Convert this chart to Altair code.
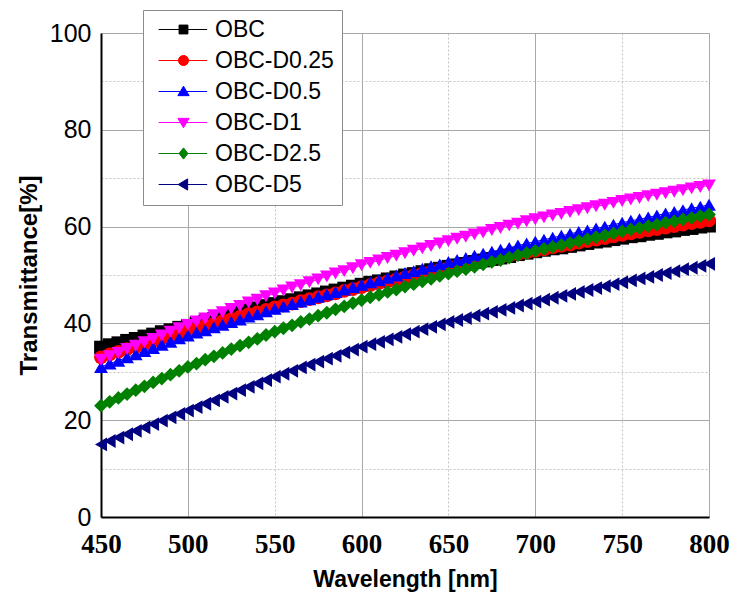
import altair as alt
import pandas as pd

wavelengths = list(range(450, 805, 5))

series_names = ["OBC", "OBC-D0.25", "OBC-D0.5", "OBC-D1", "OBC-D2.5", "OBC-D5"]
series_colors = ["#000000", "#ff0000", "#0000ff", "#ff00ff", "#008000", "#000080"]
series_shapes = ["square", "circle", "triangle-up", "triangle-down", "diamond", "triangle-left"]

# legend glyphs: short line segment through the marker
legend_line = "M-4.2,0H4.0"
legend_shapes = [
    legend_line + "M-0.75,-0.75H0.75V0.75H-0.75Z",
    legend_line + "M-0.85,0A0.85,0.85 0 1,0 0.85,0A0.85,0.85 0 1,0 -0.85,0Z",
    legend_line + "M0,-0.9L0.95,0.7L-0.95,0.7Z",
    legend_line + "M0,0.9L0.95,-0.7L-0.95,-0.7Z",
    legend_line + "M0,-0.95L0.75,0L0,0.95L-0.75,0Z",
    legend_line + "M-0.9,0L0.7,-0.95L0.7,0.95Z",
]

obc = [35.0, 35.5, 35.9, 36.4, 36.8, 37.3, 37.7, 38.2, 38.6, 39.1,
       39.5, 40.0, 40.4, 40.9, 41.3, 41.8, 42.2, 42.7, 43.1, 43.6,
       44.0, 44.4, 44.8, 45.2, 45.6, 46.0, 46.4, 46.8, 47.2, 47.6,
       48.0, 48.4, 48.7, 49.1, 49.5, 49.9, 50.2, 50.6, 51.0, 51.3,
       51.7, 52.0, 52.3, 52.7, 53.0, 53.3, 53.6, 53.9, 54.3, 54.6,
       54.9, 55.2, 55.5, 55.7, 56.0, 56.3, 56.6, 56.9, 57.1, 57.4,
       57.7, 58.0, 58.2, 58.5, 58.7, 59.0, 59.2, 59.5, 59.7, 60.0, 60.2]
obc_d025 = [33.0, 33.6, 34.1, 34.7, 35.2, 35.8, 36.3, 36.9, 37.4, 38.0,
            38.5, 39.0, 39.5, 39.9, 40.4, 40.9, 41.4, 41.9, 42.3, 42.8,
            43.3, 43.7, 44.1, 44.6, 45.0, 45.4, 45.8, 46.2, 46.7, 47.1,
            47.5, 47.9, 48.3, 48.7, 49.1, 49.5, 49.9, 50.3, 50.7, 51.1,
            51.5, 51.9, 52.2, 52.6, 52.9, 53.3, 53.6, 54.0, 54.3, 54.7,
            55.0, 55.3, 55.7, 56.0, 56.3, 56.7, 57.0, 57.3, 57.6, 58.0,
            58.3, 58.6, 58.9, 59.2, 59.5, 59.8, 60.1, 60.4, 60.7, 61.0, 61.3]
obc_d05 = [31.0, 31.7, 32.3, 33.0, 33.6, 34.3, 34.9, 35.6, 36.2, 36.9,
           37.5, 38.1, 38.6, 39.2, 39.7, 40.3, 40.8, 41.4, 41.9, 42.5,
           43.0, 43.5, 44.0, 44.5, 45.0, 45.5, 46.0, 46.5, 47.0, 47.5,
           48.0, 48.5, 48.9, 49.4, 49.9, 50.4, 50.8, 51.3, 51.8, 52.2,
           52.7, 53.1, 53.5, 54.0, 54.4, 54.8, 55.2, 55.6, 56.1, 56.5,
           56.9, 57.3, 57.7, 58.1, 58.5, 58.9, 59.2, 59.6, 60.0, 60.4,
           60.8, 61.2, 61.5, 61.9, 62.3, 62.7, 63.0, 63.4, 63.8, 64.1, 64.5]
obc_d1 = [32.5, 33.2, 33.9, 34.7, 35.4, 36.1, 36.8, 37.5, 38.3, 39.0,
          39.7, 40.4, 41.0, 41.7, 42.3, 43.0, 43.6, 44.3, 44.9, 45.6,
          46.2, 46.8, 47.4, 47.9, 48.5, 49.1, 49.7, 50.3, 50.8, 51.4,
          52.0, 52.5, 53.0, 53.5, 54.0, 54.5, 55.0, 55.5, 56.0, 56.5,
          57.0, 57.5, 57.9, 58.4, 58.8, 59.3, 59.7, 60.2, 60.6, 61.1,
          61.5, 61.9, 62.3, 62.6, 63.0, 63.4, 63.8, 64.2, 64.5, 64.9,
          65.3, 65.6, 65.9, 66.3, 66.6, 66.9, 67.2, 67.5, 67.9, 68.2, 68.5]
obc_d25 = [23.0, 23.8, 24.6, 25.4, 26.2, 27.0, 27.8, 28.6, 29.4, 30.2,
           31.0, 31.7, 32.5, 33.2, 33.9, 34.7, 35.4, 36.1, 36.8, 37.6,
           38.3, 39.0, 39.6, 40.3, 40.9, 41.6, 42.2, 42.9, 43.5, 44.2,
           44.8, 45.4, 45.9, 46.5, 47.0, 47.6, 48.1, 48.7, 49.2, 49.8,
           50.3, 50.8, 51.2, 51.7, 52.2, 52.7, 53.1, 53.6, 54.1, 54.5,
           55.0, 55.4, 55.8, 56.2, 56.6, 57.0, 57.4, 57.8, 58.2, 58.6,
           59.0, 59.4, 59.7, 60.1, 60.4, 60.8, 61.1, 61.5, 61.8, 62.2, 62.5]
obc_d5 = [15.0, 15.7, 16.4, 17.1, 17.8, 18.5, 19.2, 19.9, 20.6, 21.3,
          22.0, 22.7, 23.4, 24.1, 24.8, 25.5, 26.2, 26.9, 27.6, 28.3,
          29.0, 29.6, 30.2, 30.9, 31.5, 32.1, 32.7, 33.3, 34.0, 34.6,
          35.2, 35.7, 36.2, 36.7, 37.2, 37.8, 38.3, 38.8, 39.3, 39.8,
          40.3, 40.7, 41.1, 41.6, 42.0, 42.4, 42.8, 43.2, 43.7, 44.1,
          44.5, 44.9, 45.3, 45.7, 46.1, 46.5, 46.9, 47.3, 47.7, 48.1,
          48.5, 48.9, 49.3, 49.6, 50.0, 50.4, 50.8, 51.2, 51.5, 51.9, 52.3]

x_ticks = [450, 500, 550, 600, 650, 700, 750, 800]
y_ticks = [0, 10, 20, 30, 40, 50, 60, 70, 80, 90, 100]

all_series = [obc, obc_d025, obc_d05, obc_d1, obc_d25, obc_d5]
rows = []
for idx, (name, vals) in enumerate(zip(series_names, all_series)):
    for w, v in zip(wavelengths, vals):
        rows.append({"series": name, "order": idx, "wl": w, "T": v})
df = pd.DataFrame(rows)

color_scale = alt.Scale(domain=series_names, range=series_colors)
shape_scale = alt.Scale(domain=series_names, range=series_shapes)
legend_shape_scale = alt.Scale(domain=series_names, range=legend_shapes)

legend = alt.Legend(
    title=None,
    orient="none",
    legendX=42,
    legendY=-23,
    direction="vertical",
    fillColor="#ffffff",
    strokeColor="#8c8c8c",
    padding=8,
    symbolOffset=21,
    symbolSize=140,
    symbolStrokeWidth=1,
    labelOffset=20,
    labelFont="Liberation Sans",
    labelFontSize=23,
    labelColor="#000",
    rowPadding=7,
    labelLimit=300,
    symbolOpacity=1,
)

x_enc = alt.X(
    "wl:Q",
    scale=alt.Scale(domain=[450, 800], nice=False),
    axis=alt.Axis(
        values=x_ticks,
        title="Wavelength [nm]",
        labelFont="Liberation Serif",
        labelFontWeight="bold",
        labelFontSize=27,
        labelColor="#000",
        labelPadding=14,
        labelFlush=False,
        titleFont="Liberation Sans",
        titleFontWeight="bold",
        titleFontSize=23,
        titleColor="#000",
        titlePadding=11,
        ticks=False,
        domainColor="#000",
        domainWidth=2,
        gridColor={"condition": {"test": "datum.value % 100 == 0", "value": "#a8a8a8"}, "value": "#c4c4c4"},
        gridDash={"condition": {"test": "datum.value % 100 == 0", "value": []}, "value": [2, 2]},
        gridWidth=1,
    ),
)
y_enc = alt.Y(
    "T:Q",
    scale=alt.Scale(domain=[0, 100], nice=False),
    axis=alt.Axis(
        values=y_ticks,
        title="Transmittance[%]",
        labelExpr="datum.value % 20 == 0 ? datum.label : ''",
        labelFont="Liberation Sans",
        labelFontSize=25,
        labelColor="#000",
        labelPadding=10,
        labelFlush=False,
        titleFont="Liberation Sans",
        titleFontWeight="bold",
        titleFontSize=24,
        titleColor="#000",
        titlePadding=8,
        ticks=False,
        domainColor="#000",
        domainWidth=2,
        gridColor={"condition": {"test": "datum.value % 20 == 0", "value": "#a8a8a8"}, "value": "#c4c4c4"},
        gridDash={"condition": {"test": "datum.value % 20 == 0", "value": []}, "value": [2, 2]},
        gridWidth=1,
    ),
)

base = alt.Chart(df)

lines = base.mark_line(strokeWidth=1).encode(
    x=x_enc,
    y=y_enc,
    color=alt.Color("series:N", scale=color_scale, legend=None),
    detail="series:N",
    order="wl:Q",
)

points = base.mark_point(filled=True, size=190, opacity=1).encode(
    x=x_enc,
    y=y_enc,
    color=alt.Color("series:N", scale=color_scale, legend=None),
    shape=alt.Shape("series:N", scale=shape_scale, legend=None),
    order="order:Q",
)

# empty layer that only carries the legend (line + marker glyphs)
legend_layer = base.transform_filter("false").mark_point(filled=True, opacity=1).encode(
    x=x_enc,
    y=y_enc,
    color=alt.Color("series:N", scale=color_scale, legend=legend),
    stroke=alt.Stroke("series:N", scale=color_scale, legend=legend),
    shape=alt.Shape("series:N", scale=legend_shape_scale, legend=legend),
)

chart = (
    alt.layer(lines, points, legend_layer)
    .resolve_scale(color="independent", shape="independent", stroke="independent")
    .properties(
        width=608,
        height=484,
        autosize=alt.AutoSizeParams(type="none"),
        padding={"left": 93, "top": 25, "right": 20, "bottom": 80},
    )
    .configure_view(stroke="#000", strokeWidth=2)
    .configure(background="#ffffff")
)

chart.save("out.html", embed_options={"renderer": "svg", "actions": False})
